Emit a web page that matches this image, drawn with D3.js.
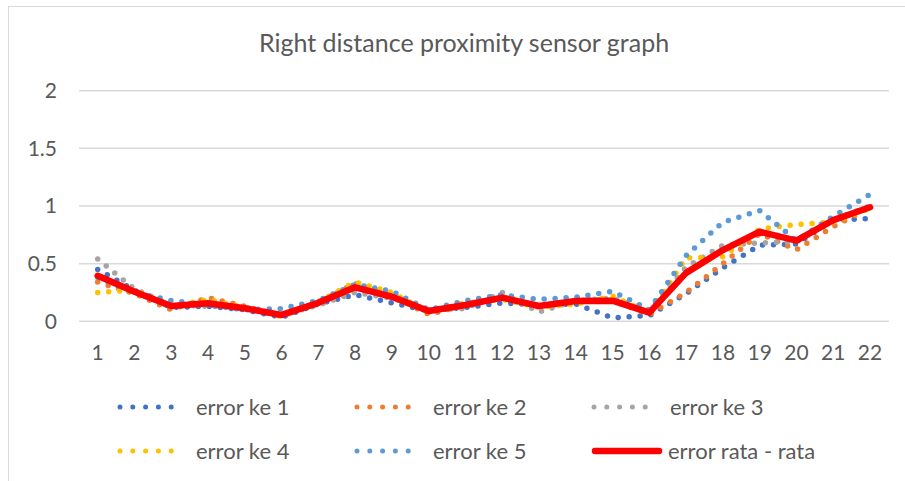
<!DOCTYPE html>
<html><head><meta charset="utf-8">
<script src="https://cdn.jsdelivr.net/npm/d3@7"></script>
<style>
html,body{margin:0;padding:0;background:#fff;}
svg{display:block;font-family:Lato,"Open Sans",sans-serif;}
</style></head>
<body>
<svg id="chart" width="905" height="481"></svg>
<script>
const categories = ["1","2","3","4","5","6","7","8","9","10","11","12","13","14","15","16","17","18","19","20","21","22"];
const yTicks = [0, 0.5, 1, 1.5, 2];
const title = "Right distance proximity sensor graph";
const seriesNames = ["error ke 1","error ke 2","error ke 3","error ke 4","error ke 5","error rata - rata"];
const seriesColors = ["#4472C4","#ED7D31","#A5A5A5","#FFC000","#5B9BD5","#FF0000"];
const errorKe1 = [0.45,0.27,0.12,0.13,0.10,0.035,0.15,0.23,0.16,0.09,0.12,0.16,0.14,0.15,0.03,0.05,0.24,0.465,0.66,0.67,0.88,0.89];
const errorKe2 = [0.34,0.24,0.10,0.205,0.13,0.05,0.16,0.33,0.22,0.06,0.14,0.20,0.13,0.20,0.18,0.06,0.25,0.50,0.76,0.62,0.82,0.99];
const errorKe3 = [0.54,0.28,0.14,0.13,0.12,0.05,0.14,0.25,0.20,0.10,0.11,0.25,0.08,0.18,0.20,0.10,0.47,0.66,0.68,0.69,0.88,1.00];
const errorKe4 = [0.25,0.27,0.13,0.19,0.12,0.04,0.17,0.34,0.25,0.08,0.16,0.19,0.12,0.15,0.22,0.07,0.55,0.56,0.80,0.84,0.86,0.98];
const errorKe5 = [0.38,0.25,0.18,0.14,0.10,0.11,0.18,0.32,0.26,0.10,0.18,0.23,0.19,0.21,0.26,0.10,0.57,0.86,0.96,0.70,0.91,1.10];
const errorRata = [0.395,0.257,0.133,0.156,0.113,0.055,0.16,0.295,0.213,0.089,0.141,0.205,0.133,0.176,0.179,0.075,0.42,0.618,0.777,0.70,0.878,0.989];

const allSeries = [errorKe1, errorKe2, errorKe3, errorKe4, errorKe5, errorRata];

const svg = d3.select("#chart");
const textColor = "#595959";

// chart border
svg.append("rect").attr("x", 8.5).attr("y", 6.5).attr("width", 920).attr("height", 500)
  .attr("fill", "none").attr("stroke", "#D9D9D9").attr("stroke-width", 1);

// title
svg.append("text").attr("x", 464).attr("y", 52).attr("text-anchor", "middle")
  .attr("font-size", 25).attr("fill", textColor).text(title);

const x = d3.scaleBand().domain(categories).range([79.3, 888.4]).paddingInner(0).paddingOuter(0);
const y = d3.scaleLinear().domain([0, 2]).range([321.3, 90.7]);
const cx = c => x(c) + x.bandwidth() / 2;

// gridlines
svg.append("g").selectAll("line").data(yTicks).join("line")
  .attr("x1", 79).attr("x2", 889)
  .attr("y1", d => y(d)).attr("y2", d => y(d))
  .attr("stroke", "#D9D9D9").attr("stroke-width", 1.5);

// y axis labels
const yAxis = svg.append("g").attr("transform", "translate(79,0)")
  .call(d3.axisLeft(y).tickValues(yTicks).tickFormat(d3.format("")).tickSize(0).tickPadding(22));
yAxis.select(".domain").remove();
yAxis.selectAll("text").attr("font-size", 21).attr("fill", textColor).attr("font-family", "Lato");

// x axis labels
const xAxis = svg.append("g").attr("transform", "translate(0,321.3)")
  .call(d3.axisBottom(x).tickSize(0).tickPadding(24));
xAxis.select(".domain").remove();
xAxis.selectAll("text").attr("font-size", 21).attr("fill", textColor).attr("font-family", "Lato");

const line = d3.line().x((d, i) => cx(categories[i])).y(d => y(d));

// dotted series
allSeries.forEach((s, k) => {
  const p = svg.append("path").datum(s).attr("d", line).attr("fill", "none")
    .attr("stroke", seriesColors[k]).attr("stroke-linejoin", "round");
  if (k < 5) {
    p.attr("stroke-width", 5.5).attr("stroke-linecap", "round").attr("stroke-dasharray", "0,11");
  } else {
    p.attr("stroke-width", 6.5).attr("stroke-linecap", "round");
  }
});

// legend
const legendPos = [[118,407],[355,407],[592,407],[118,451],[355,451],[592,451]];
seriesNames.forEach((name, k) => {
  const [lx, ly] = legendPos[k];
  const g = svg.append("g");
  if (k < 5) {
    g.append("line").attr("x1", lx + 2).attr("x2", lx + 66).attr("y1", ly).attr("y2", ly)
      .attr("stroke", seriesColors[k]).attr("stroke-width", 5).attr("stroke-linecap", "round")
      .attr("stroke-dasharray", "0,12.8");
  } else {
    g.append("line").attr("x1", lx + 3).attr("x2", lx + 67).attr("y1", ly).attr("y2", ly)
      .attr("stroke", seriesColors[k]).attr("stroke-width", 6.5).attr("stroke-linecap", "round");
  }
  g.append("text").attr("x", lx + (k < 5 ? 78 : 76)).attr("y", ly).attr("dy", "0.35em")
    .attr("font-size", 22).attr("fill", textColor).text(name);
});
</script>
</body></html>
